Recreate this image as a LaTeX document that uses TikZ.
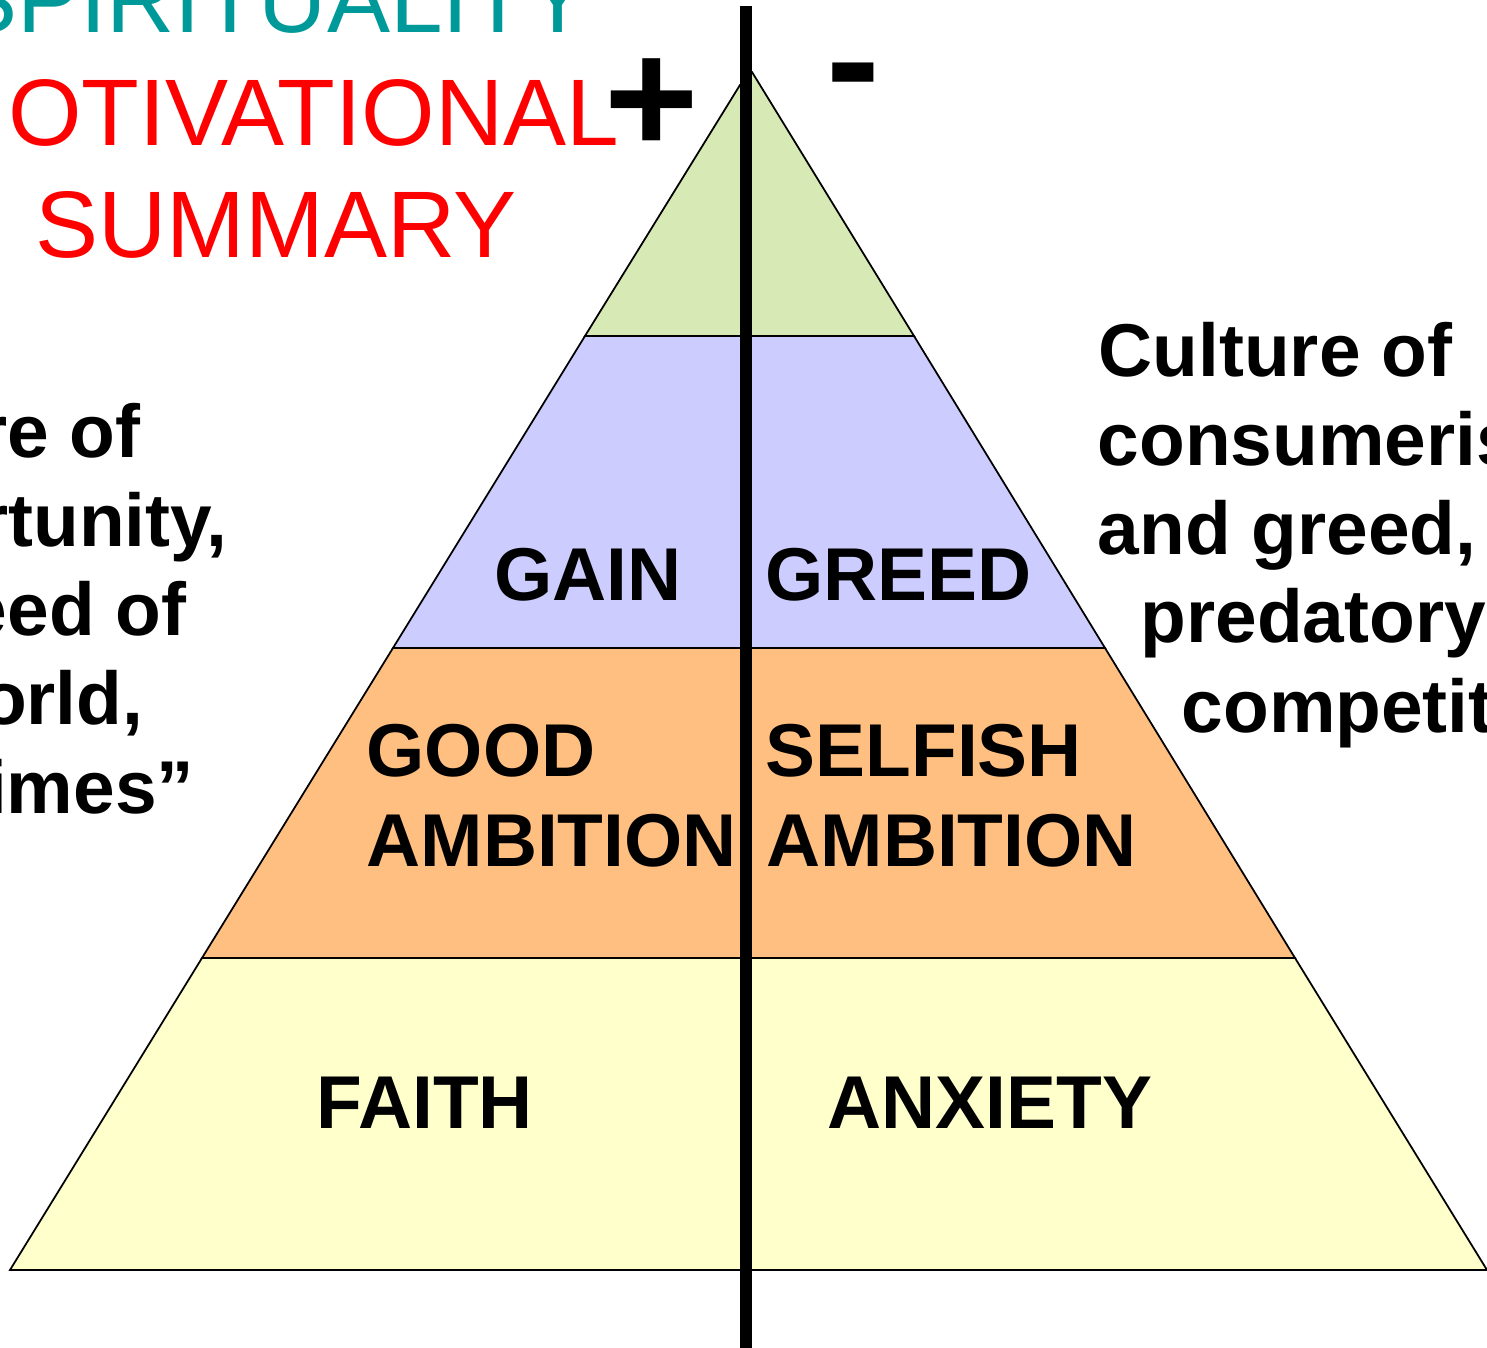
\documentclass[tikz,border=0pt]{standalone}
\usepackage{fontspec}
\setmainfont{Liberation Sans}
\definecolor{topgreen}{RGB}{215,233,180}
\definecolor{gainblue}{RGB}{204,204,255}
\definecolor{ambitionorange}{RGB}{255,191,128}
\definecolor{baseyellow}{RGB}{255,255,204}
\definecolor{titleteal}{RGB}{0,153,153}
\definecolor{titlered}{RGB}{255,0,0}
\begin{document}
\begin{tikzpicture}[x=0.1mm,y=-0.1mm,
		band/.style={draw=black,line width=0.5pt,line join=miter},
		lbl/.style={font=\bfseries\fontsize{21.3}{25}\selectfont,inner sep=0pt},
		ttl/.style={font=\fontsize{26.9}{32}\selectfont,inner sep=0pt,anchor=base},
		sign/.style={font=\bfseries\fontsize{46}{50}\selectfont,inner sep=0pt,anchor=base}]
	\useasboundingbox (0,0) rectangle (1487,1348);
	% left half of the pyramid
	\coordinate (L0) at (740,85);
	\coordinate (L1) at (585,336);
	\coordinate (L2) at (393,648);
	\coordinate (L3) at (202,958);
	\coordinate (L4) at (10,1270);
	% right half of the pyramid
	\coordinate (R0) at (752,72);
	\coordinate (R1) at (914,336);
	\coordinate (R2) at (1105,648);
	\coordinate (R3) at (1295,958);
	\coordinate (R4) at (1487,1270);
	% middle
	\coordinate (CL) at (746,85);
	\coordinate (CR) at (746,72);
	\coordinate (C1) at (746,336);
	\coordinate (C2) at (746,648);
	\coordinate (C3) at (746,958);
	\coordinate (C4) at (746,1270);
	\coordinate (axtop) at (746,6);
	\coordinate (axbot) at (746,1348);

	\filldraw[band,fill=topgreen] (L0) -- (L1) -- (C1) -- (CL) -- cycle;
	\filldraw[band,fill=gainblue] (L1) -- (L2) -- (C2) -- (C1) -- cycle;
	\filldraw[band,fill=ambitionorange] (L2) -- (L3) -- (C3) -- (C2) -- cycle;
	\filldraw[band,fill=baseyellow] (L3) -- (L4) -- (C4) -- (C3) -- cycle;

	\filldraw[band,fill=topgreen] (R0) -- (R1) -- (C1) -- (CR) -- cycle;
	\filldraw[band,fill=gainblue] (R1) -- (R2) -- (C2) -- (C1) -- cycle;
	\filldraw[band,fill=ambitionorange] (R2) -- (R3) -- (C3) -- (C2) -- cycle;
	\filldraw[band,fill=baseyellow] (R3) -- (R4) -- (C4) -- (C3) -- cycle;

	\draw[line width=1.2mm] (axtop) -- (axbot);

	\node[ttl,text=titleteal] (title1) at (272,33) {SPIRITUALITY};
	\node[ttl,text=titlered,anchor=base east] (title2) at (620,146) {MOTIVATIONAL};
	\node[ttl,text=titlered] (title3) at (276,258) {SUMMARY};

	\node[sign] (plus) at (652,154) {+};
	\node[sign] (minus) at (853,115) {-};

	\node[lbl,anchor=base west] (gain) at (494,601) {GAIN};
	\node[lbl,anchor=base west] (greed) at (765,601) {GREED};
	\node[lbl,anchor=base west] (good) at (366,777) {GOOD};
	\node[lbl,anchor=base west] (goodamb) at (366,867) {AMBITION};
	\node[lbl,anchor=base west] (selfish) at (765,777) {SELFISH};
	\node[lbl,anchor=base west] (selfamb) at (766,867) {AMBITION};
	\node[lbl,anchor=base west] (faith) at (316,1129) {FAITH};
	\node[lbl,anchor=base west] (anxiety) at (827,1129) {ANXIETY};

	\node[lbl,anchor=base east] (opp1) at (141,458) {“Culture of};
	\node[lbl,anchor=base east] (opp2) at (228,547) {opportunity,};
	\node[lbl,anchor=base east] (opp3) at (187,636) {the need of};
	\node[lbl,anchor=base east] (opp4) at (144,725) {the world,};
	\node[lbl,anchor=base east] (opp5) at (195,814) {the times”};

	\node[lbl,anchor=base west] (cons1) at (1098,377) {Culture of};
	\node[lbl,anchor=base west] (cons2) at (1097,466) {consumerism};
	\node[lbl,anchor=base west] (cons3) at (1097,555) {and greed,};
	\node[lbl,anchor=base west] (cons4) at (1140,643) {predatory};
	\node[lbl,anchor=base west] (cons5) at (1181,733) {competition};
\end{tikzpicture}
\end{document}
